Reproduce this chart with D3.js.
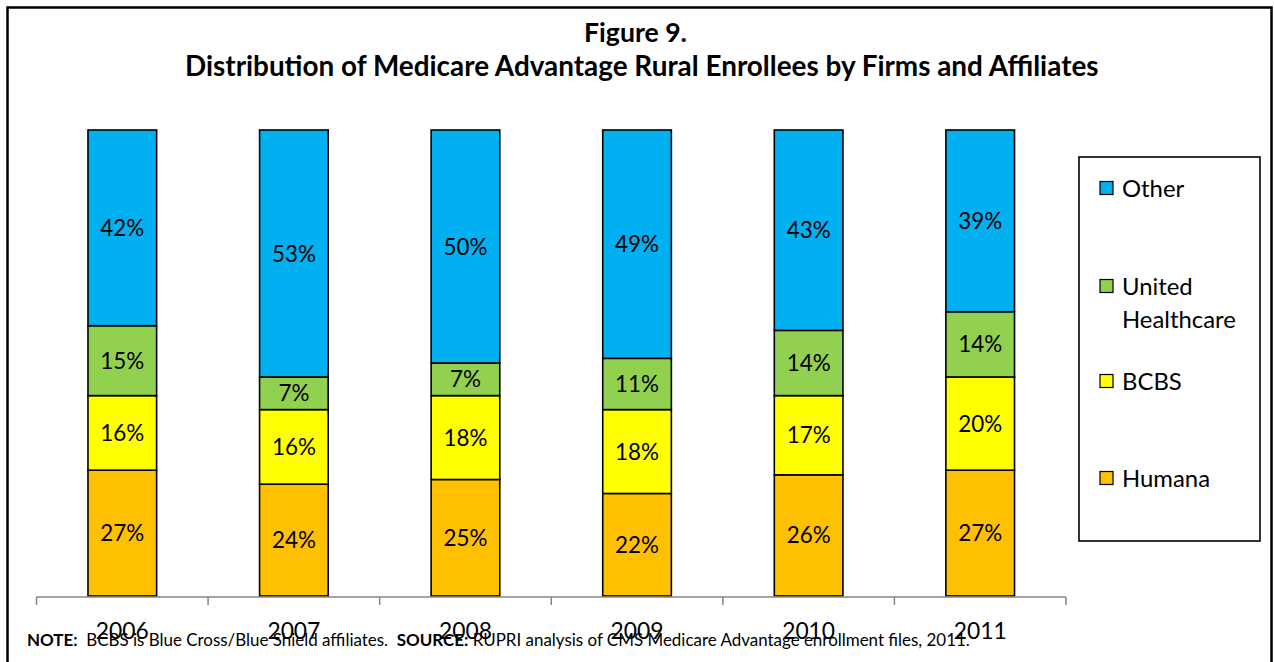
<!DOCTYPE html>
<html>
<head>
<meta charset="utf-8">
<script src="https://cdn.jsdelivr.net/npm/d3@7"></script>
<style>
  html, body { margin: 0; padding: 0; background: #fff; }
  svg { display: block; font-family: Lato, "Open Sans", sans-serif; }
</style>
</head>
<body>
<svg id="chart" width="1275" height="662"></svg>
<script>
const years = ["2006", "2007", "2008", "2009", "2010", "2011"];
const humana = [27, 24, 25, 22, 26, 27];
const bcbs = [16, 16, 18, 18, 17, 20];
const united = [15, 7, 7, 11, 14, 14];
const other = [42, 53, 50, 49, 43, 39];
const seriesNames = ["Humana", "BCBS", "United Healthcare", "Other"];
const seriesColors = ["#FFC000", "#FFFF00", "#92D050", "#00B0F0"];
const legendOrder = ["Other", "United Healthcare", "BCBS", "Humana"];
const titleLine1 = "Figure 9.";
const titleLine2 = "Distribution of Medicare Advantage Rural Enrollees by Firms and Affiliates";

const svg = d3.select("#chart");
const font = 'Lato, "Open Sans", sans-serif';

function fitWidth(sel, target) {
  const s0 = 20;
  sel.attr("font-size", s0);
  const w = sel.node().getBBox().width;
  const s = s0 * target / w;
  sel.attr("font-size", s);
  return s;
}

// outer frame
svg.append("rect")
  .attr("x", 7.5).attr("y", 7.5).attr("width", 1264).attr("height", 700)
  .attr("fill", "none").attr("stroke", "#000").attr("stroke-width", 2.5);

// titles
const t1 = svg.append("text").attr("x", 584).attr("y", 42)
  .attr("font-weight", "bold").attr("fill", "#000").text(titleLine1);
fitWidth(t1, 103);
const t2 = svg.append("text").attr("x", 185).attr("y", 76)
  .attr("font-weight", "bold").attr("fill", "#000").text(titleLine2);
fitWidth(t2, 914);

// data
const rows = years.map((y, i) => ({
  year: y,
  "Humana": humana[i],
  "BCBS": bcbs[i],
  "United Healthcare": united[i],
  "Other": other[i]
}));
const stack = d3.stack().keys(seriesNames)(rows);

const x = d3.scaleBand().domain(years).range([36.5, 1066]).padding(0);
const y = d3.scaleLinear().domain([0, 100]).range([596, 130]);
const color = d3.scaleOrdinal().domain(seriesNames).range(seriesColors);
const barW = x.bandwidth() * 0.4;

// measure label font size
const probe = svg.append("text").text("2006");
const yearSize = fitWidth(probe, 53);
probe.remove();
const probe2 = svg.append("text").text("53%");
const labelSize = fitWidth(probe2, 44);
probe2.remove();

// bars
const g = svg.append("g");
stack.forEach(layer => {
  const lg = g.append("g");
  lg.selectAll("rect").data(layer).join("rect")
    .attr("x", d => x(d.data.year) + x.bandwidth() / 2 - barW / 2)
    .attr("y", d => y(d[1]))
    .attr("width", barW)
    .attr("height", d => y(d[0]) - y(d[1]))
    .attr("fill", color(layer.key))
    .attr("stroke", "#000").attr("stroke-width", 1.6);
});
stack.forEach(layer => {
  g.append("g").selectAll("text").data(layer).join("text")
    .attr("x", d => x(d.data.year) + x.bandwidth() / 2)
    .attr("y", d => (y(d[0]) + y(d[1])) / 2)
    .attr("dy", "0.36em")
    .attr("text-anchor", "middle")
    .attr("font-size", labelSize)
    .attr("fill", "#000")
    .text(d => (d[1] - d[0]) + "%");
});

// x axis
const axisG = svg.append("g").attr("stroke", "#868686").attr("stroke-width", 1.5);
axisG.append("line")
  .attr("x1", x.range()[0]).attr("x2", x.range()[1])
  .attr("y1", 597).attr("y2", 597);
const tickPos = years.map(d => x(d)).concat([x.range()[1]]);
axisG.selectAll("line.tick").data(tickPos).join("line").attr("class", "tick")
  .attr("x1", d => d).attr("x2", d => d)
  .attr("y1", 597).attr("y2", 605);
svg.append("g").selectAll("text").data(years).join("text")
  .attr("x", d => x(d) + x.bandwidth() / 2)
  .attr("y", 639)
  .attr("text-anchor", "middle")
  .attr("font-size", yearSize)
  .attr("fill", "#000")
  .text(d => d);

// legend
svg.append("rect")
  .attr("x", 1079).attr("y", 157).attr("width", 181).attr("height", 384)
  .attr("fill", "#fff").attr("stroke", "#000").attr("stroke-width", 1.6);
const legendY = [188.5, 286.5, 381.5, 478.5];
const probe3 = svg.append("text").text("Healthcare");
const legSize = fitWidth(probe3, 114);
probe3.remove();
const lgG = svg.append("g");
legendOrder.forEach((name, i) => {
  lgG.append("rect")
    .attr("x", 1100).attr("y", legendY[i] - 7).attr("width", 13).attr("height", 13)
    .attr("fill", color(name)).attr("stroke", "#000").attr("stroke-width", 1.2);
  const words = name === "United Healthcare" ? ["United", "Healthcare"] : [name];
  words.forEach((w, j) => {
    lgG.append("text")
      .attr("x", 1122).attr("y", legendY[i] + j * 33)
      .attr("dy", "0.36em")
      .attr("font-size", legSize).attr("fill", "#000")
      .text(w);
  });
});

// footnote
const fn = svg.append("text").attr("x", 27).attr("y", 646).attr("fill", "#000");
fn.append("tspan").attr("font-weight", "bold").text("NOTE:");
fn.append("tspan").attr("xml:space", "preserve").text("\u00a0 BCBS is Blue Cross/Blue Shield affiliates.\u00a0 ");
fn.append("tspan").attr("font-weight", "bold").text("SOURCE:");
fn.append("tspan").text(" RUPRI analysis of CMS Medicare Advantage enrollment files, 2011.");
fitWidth(fn, 943);
</script>
</body>
</html>
